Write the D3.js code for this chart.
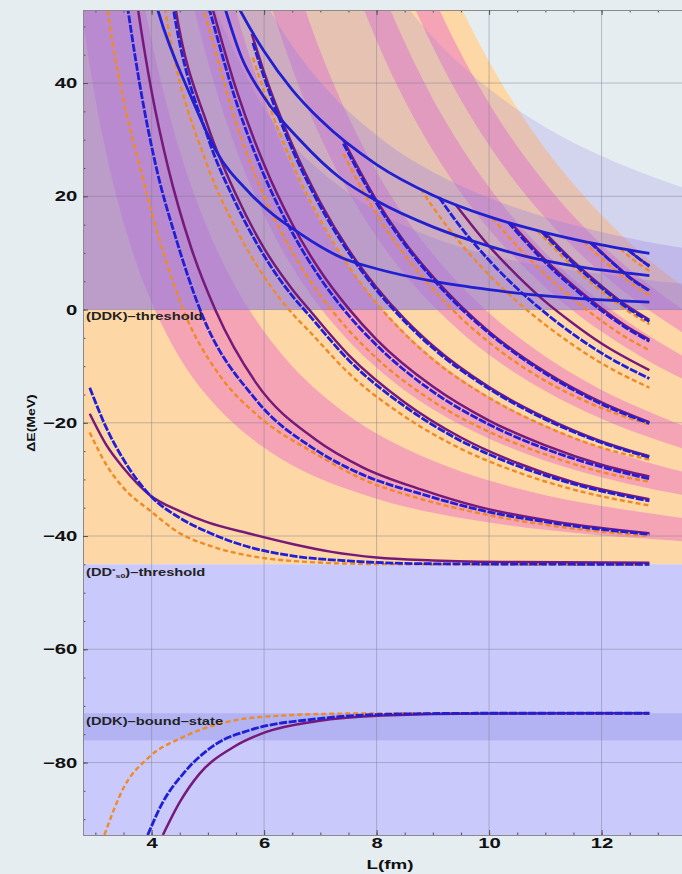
<!DOCTYPE html>
<html>
<head>
<meta charset="utf-8">
<script src="https://cdn.jsdelivr.net/npm/d3@7"></script>
<style>
  body { margin: 0; background: #e5edf1; }
  svg { display: block; }
  text { font-family: "Liberation Sans", Arial, sans-serif; font-weight: bold; }
</style>
</head>
<body>
<div id="chart"></div>
<script>
var W = 682, H = 874;

// thresholds (MeV)
var ddkThreshold = 0;
var ddsThreshold = -45;
var boundBand = [-76.1, -71.3];

// free D D*s0 levels on a common L grid (fm)
var freeL = [2.78, 3, 3.25, 3.5, 3.75, 4, 4.5, 5, 5.5, 6, 6.5, 7, 7.5, 8, 8.5, 9, 9.5, 10, 11, 12, 13, 13.43];
var lev1  = [50.8, 37.2, 25.1, 15.4, 7.6, 1.3, -8.5, -15.4, -20.5, -24.4, -27.5, -29.9, -31.8, -33.4, -34.8, -35.9, -36.8, -37.6, -38.9, -39.9, -40.6, -40.9];
var lev2  = [146, 119, 95, 75.8, 60.2, 47.5, 28.1, 14.2, 3.9, -3.9, -10.0, -14.8, -18.7, -21.9, -24.5, -26.7, -28.6, -30.2, -32.8, -34.7, -36.2, -36.8];
var lev3  = [242, 202, 165, 136, 113, 93.8, 64.6, 43.8, 28.4, 16.7, 7.5, 0.3, -5.5, -10.3, -14.3, -17.6, -20.4, -22.8, -26.7, -29.6, -31.9, -32.7];
var lev4  = [338, 284, 235, 197, 166, 140, 101, 73.4, 52.8, 37.2, 25.0, 15.4, 7.6, 1.2, -4.0, -8.5, -12.2, -15.4, -20.5, -24.4, -27.5, -28.6];
var lev5  = [434, 366, 305, 257, 218, 186, 138, 103, 77.3, 57.8, 42.6, 30.5, 20.8, 12.8, 6.2, 0.7, -4.0, -8.0, -14.4, -19.3, -23.1, -24.5];
var lev6  = [530, 448, 375, 318, 271, 233, 174, 133, 102, 78.4, 60.1, 45.6, 34.0, 24.4, 16.4, 9.8, 4.2, -0.6, -8.3, -14.2, -18.7, -20.4];
var lev8  = [721, 613, 516, 438, 376, 325, 247, 192, 151, 120, 95.1, 75.8, 60.3, 47.5, 36.9, 28.1, 20.6, 14.2, 3.9, -3.9, -10.0, -12.2];
var lev9  = [817, 695, 586, 499, 429, 371, 284, 221, 175, 140, 113, 90.9, 73.4, 59.0, 47.2, 37.2, 28.8, 21.6, 10.0, 1.3, -5.6, -8.1];
var lev10 = [913, 777, 656, 559, 481, 418, 320, 251, 200, 161, 130, 106, 86.6, 70.6, 57.4, 46.4, 37.0, 29.0, 16.2, 6.4, -1.2, -4.0];
var lev11 = [1008, 859, 726, 620, 534, 464, 357, 281, 224, 181, 148, 121, 99.8, 82.2, 67.6, 55.5, 45.2, 36.4, 22.3, 11.5, 3.2, 0.1];
var lev12 = [1104, 942, 796, 680, 586, 510, 394, 310, 249, 202, 165, 136, 113, 93.7, 77.9, 64.6, 53.4, 43.8, 28.4, 16.7, 7.5, 4.2];

// upper edges of the DDK shaded regions, same grid
var ddkUpper = [505, 433, 369, 318, 277, 244, 193, 156, 129, 108, 92.3, 79.6, 69.3, 60.9, 54.0, 48.1, 43.2, 39.0, 32.2, 27.1, 23.1, 21.6];
var ddkBandA = [255, 219, 186, 161, 140, 123, 97.2, 78.7, 65.1, 54.7, 46.6, 40.2, 35.0, 30.8, 27.2, 24.3, 21.8, 19.7, 16.3, 13.7, 11.6, 10.9];
var ddkBandB = [250, 210, 175, 145, 122, 103, 76, 57, 45, 35.5, 29.2, 24.5, 20.6, 17.4, 14.8, 12.7, 11.0, 9.6, 7.7, 6.3, 5.0, 4.6];

// free DDK levels (blue solid)
var ddkA = [[5.5,54.2],[5.57,52.9],[6,45.6],[6.5,38.8],[7,33.5],[8,25.6],[9,20.2],[10,16.4],[11,13.6],[12,11.4],[12.85,9.9]];
var ddkB = [[5.25,55],[5.6,44.5],[6,37.5],[6.64,29.9],[7.37,23.1],[8,19.2],[9,14.6],[10,11.2],[10.73,9.2],[11.5,7.7],[12.85,6.0]];
var ddkC = [[4.05,55],[4.11,52.9],[4.73,36.9],[5.14,28.1],[5.75,20.5],[6.64,13.4],[7.37,9.2],[8,7.2],[9,5.0],[10,3.5],[11,2.4],[12.85,1.3]];

// finite volume levels: purple solid
var purple1 = [[2.9,-18.4],[3.2,-24],[3.5,-28],[3.97,-32.8],[4.5,-35.6],[5,-37.6],[5.75,-39.6],[6.5,-41.4],[7.2,-42.8],[8,-43.8],[9,-44.3],[10.5,-44.6],[12.85,-44.7]];
var purple2 = [[3.7,57],[3.76,52.9],[4.0,38.5],[4.29,25.2],[4.7,11],[5.13,0],[5.86,-13],[6.92,-23],[7.76,-27.9],[8.8,-31.8],[9.84,-34.9],[11.2,-37.5],[12.85,-39.5]];
var purple3 = [[4.38,56],[4.43,52.9],[5,32.4],[5.5,20.3],[6,10.8],[6.5,3.6],[6.8,0],[7.5,-8],[8.5,-16.4],[9.5,-22.6],[10.5,-27.1],[11.5,-30.5],[12.85,-33.5]];
var purple4 = [[5.03,55],[5.09,52.9],[5.5,39.0],[6,25.6],[6.5,15.1],[7,6.8],[7.5,0.2],[8,-5.3],[9,-13.6],[10,-19.6],[11,-24],[12,-27.4],[12.85,-29.5]];
var purple5 = [[5.78,48.7],[6,41.9],[6.5,29.1],[7,18.9],[7.5,10.6],[8,3.9],[8.5,-1.7],[9,-6.4],[10,-13.7],[11,-19.1],[12,-23.3],[12.85,-25.9]];
var purple6 = [[7.41,29.9],[8,19.25],[8.5,11.9],[9,5.8],[9.5,0.6],[10,-3.9],[11,-11],[12,-16.4],[12.85,-19.9]];
var purple7 = [[9.4,18.6],[10,11.2],[10.5,6],[11,1.4],[11.5,-2.5],[12,-6],[12.85,-10.7]];
var purple8 = [[10.4,15.2],[11,8.75],[11.5,4.2],[12,0.2],[12.4,-2.7],[12.85,-5.3]];
var purple9 = [[11,13.5],[11.5,8.5],[12,4.15],[12.4,1],[12.85,-1.8]];
var purple10 = [[11.82,11.8],[12.2,8.3],[12.5,5.75],[12.85,3.4]];
var purple11 = [[12.48,10.5],[12.65,9.1],[12.85,7.8]];
var purpleBound = [[4.2,-92.8],[4.5,-87],[4.85,-82],[5.45,-77.3],[6.04,-74.6],[6.93,-72.7],[8.11,-71.7],[10,-71.35],[12.85,-71.3]];

// blue dash-dot
var blue1 = [[2.9,-13.8],[3.2,-21],[3.5,-26.5],[3.97,-32.8],[4.5,-36.8],[5,-39.3],[5.75,-42],[6.5,-43.5],[7.5,-44.4],[9,-44.9],[12.85,-45]];
var blue2 = [[3.52,57],[3.58,52.9],[3.82,38],[4.08,25.2],[4.45,12],[4.86,0],[5.86,-16],[6.92,-24.8],[7.76,-29.2],[8.8,-32.6],[9.84,-35.4],[11.2,-37.8],[12.85,-39.7]];
var blue3 = [[4.34,56],[4.39,52.9],[5,30.4],[5.5,18.7],[6,9.5],[6.5,2.4],[6.8,-1],[7.5,-8.9],[8.5,-17.1],[9.5,-23.2],[10.5,-27.6],[11.5,-30.8],[12.85,-33.8]];
var blue4 = [[4.97,55],[5.03,52.9],[5.5,36.8],[6,23.7],[6.5,13.6],[7,5.5],[7.5,-1],[8,-6.3],[9,-14.5],[10,-20.3],[11,-24.6],[12,-27.8],[12.85,-29.9]];
var blue5 = [[5.8,47.1],[6,41],[6.5,28.3],[7,18.2],[7.5,10.1],[8,3.4],[8.5,-2.1],[9,-6.8],[10,-14],[11,-19.4],[12,-23.5],[12.85,-26.1]];
var blue6 = [[7.41,29.3],[8,18.75],[8.5,11.5],[9,5.4],[9.5,0.2],[10,-4.2],[11,-11.3],[12,-16.7],[12.85,-20.1]];
var blue7 = [[9.11,19.8],[9.5,14.5],[10,8.7],[10.5,3.7],[11,-0.6],[11.5,-4.4],[12,-7.7],[12.85,-12.2]];
var blue8 = [[10.34,15.4],[11,8.3],[11.5,3.8],[12,-0.2],[12.4,-3],[12.85,-5.6]];
var blue9 = [[10.94,13.7],[11.5,8.15],[12,3.8],[12.4,0.7],[12.85,-2.1]];
var blue10 = [[11.8,11.8],[12.2,8.2],[12.5,5.6],[12.85,3.3]];
var blue11 = [[12.47,10.5],[12.85,7.6]];
var blueBound = [[3.93,-92.8],[4.2,-87],[4.56,-82],[5.15,-76.7],[5.74,-74.3],[6.93,-72.3],[8.11,-71.5],[10,-71.3],[12.85,-71.3]];

// orange dashed
var orange1 = [[2.9,-21.7],[3.2,-27.5],[3.5,-31.5],[3.97,-35.5],[4.5,-39.5],[5,-41.6],[5.75,-43.5],[6.5,-44.4],[8,-44.95],[12.85,-45.1]];
var orange2 = [[3.17,57],[3.22,52.9],[3.48,38],[3.79,25.2],[4.15,12],[4.56,0],[5.2,-11.5],[5.86,-18.5],[6.92,-25.5],[7.76,-30],[8.8,-33.5],[9.84,-36],[11.2,-38.3],[12.85,-40]];
var orange3 = [[4.19,56],[4.24,52.9],[5,25.2],[5.5,14.3],[6,5.8],[6.5,-0.7],[6.8,-3.8],[7.5,-11.2],[8.5,-18.9],[9.5,-24.6],[10.5,-28.7],[11.5,-31.8],[12.85,-34.6]];
var orange4 = [[4.85,55],[4.92,52.9],[5.5,33],[6,20],[6.5,10.2],[7,2.5],[7.5,-3.6],[8,-8.6],[9,-16.2],[10,-21.6],[11,-25.6],[12,-28.7],[12.85,-30.4]];
var orange5 = [[5.8,44.5],[6,38.5],[6.5,25.8],[7,15.8],[7.5,7.7],[8,1.1],[8.5,-4.3],[9,-8.8],[10,-15.6],[11,-20.6],[12,-24.4],[12.85,-26.5]];
var orange6 = [[7.41,27.5],[8,16.8],[8.5,9.6],[9,3.6],[9.5,-1.5],[10,-5.8],[11,-12.6],[12,-17.4],[12.85,-20.3]];
var orange7 = [[8.78,21.3],[9,18.1],[9.5,11.6],[10,6.1],[10.5,1.4],[11,-2.7],[11.5,-6.3],[12,-9.5],[12.85,-13.8]];
var orange8 = [[10.06,16.2],[10.5,11.2],[11,6.2],[11.5,1.8],[12,-2],[12.4,-4.7],[12.85,-7.2]];
var orange9 = [[10.86,13.9],[11.5,7.5],[12,3.2],[12.4,0.2],[12.85,-2.6]];
var orange10 = [[11.68,12],[12,9],[12.4,5.6],[12.85,2.5]];
var orange11 = [[12.33,10.8],[12.55,8.9],[12.85,6.8]];
var orangeBound = [[3.16,-92.8],[3.5,-84.5],[3.96,-79],[4.56,-75.5],[5.45,-72.6],[6.34,-71.7],[7.5,-71.35],[9,-71.3],[12.85,-71.3]];

var purpleLevels = [purple1, purple2, purple3, purple4, purple5, purple6, purple7, purple8, purple9, purple10, purple11, purpleBound];
var blueLevels = [blue1, blue2, blue3, blue4, blue5, blue6, blue7, blue8, blue9, blue10, blue11, blueBound];
var orangeLevels = [orange1, orange2, orange3, orange4, orange5, orange6, orange7, orange8, orange9, orange10, orange11, orangeBound];
var ddkLevels = [ddkA, ddkB, ddkC];

var xTicks = [4, 6, 8, 10, 12];
var yTicks = [-80, -60, -40, -20, 0, 20, 40];

var x = d3.scaleLinear().domain([2.78, 13.43]).range([83, 682]);
var y = d3.scaleLinear().domain([-92.8, 52.9]).range([835, 10]);

var svg = d3.select('#chart').append('svg')
  .attr('width', W)
  .attr('height', H);

svg.append('rect').attr('width', W).attr('height', H).attr('fill', '#e5edf1');

svg.append('clipPath').attr('id', 'plot')
  .append('rect')
  .attr('x', x.range()[0]).attr('y', y.range()[1])
  .attr('width', x.range()[1] - x.range()[0])
  .attr('height', y.range()[0] - y.range()[1]);

var g = svg.append('g').attr('clip-path', 'url(#plot)');

var area = d3.area()
  .curve(d3.curveMonotoneX)
  .x(function(d) { return x(d[0]); })
  .y0(function(d) { return y(d[1]); })
  .y1(function(d) { return y(d[2]); });

function band(lo, hi) {
  return freeL.map(function(L, i) {
    var a = Array.isArray(lo) ? lo[i] : lo;
    var b = Array.isArray(hi) ? hi[i] : hi;
    return [L, a, b];
  });
}

// orange: DD*s0 region
g.append('path').attr('d', area(band(ddsThreshold, lev12))).attr('fill', '#fdd7a6');

// pink bands between free levels
[[lev1, lev2], [lev3, lev4], [lev5, lev6], [lev8, lev9], [lev10, lev11]].forEach(function(p) {
  g.append('path').attr('d', area(band(p[0], p[1]))).attr('fill', '#f5a4b5');
});

// below the DD*s0 threshold
g.append('rect')
  .attr('x', x.range()[0]).attr('width', x.range()[1] - x.range()[0])
  .attr('y', y(ddsThreshold)).attr('height', y.range()[0] - y(ddsThreshold))
  .attr('fill', '#c9c9fb');

g.append('rect')
  .attr('x', x.range()[0]).attr('width', x.range()[1] - x.range()[0])
  .attr('y', y(boundBand[1])).attr('height', y(boundBand[0]) - y(boundBand[1]))
  .attr('fill', '#b3b3f3');

// DDK regions above threshold
[[ddkUpper, 0.22], [ddkBandA, 0.3], [ddkBandB, 0.3]].forEach(function(p) {
  g.append('path').attr('d', area(band(ddkThreshold, p[0])))
    .attr('fill', '#957ce2').attr('fill-opacity', p[1]);
});

// grid
g.selectAll('.gx').data(xTicks).enter().append('line')
  .attr('x1', function(d) { return x(d); }).attr('x2', function(d) { return x(d); })
  .attr('y1', y.range()[1]).attr('y2', y.range()[0])
  .attr('stroke', '#7d7d90').attr('stroke-opacity', 0.45);
g.selectAll('.gy').data(yTicks).enter().append('line')
  .attr('y1', function(d) { return y(d); }).attr('y2', function(d) { return y(d); })
  .attr('x1', x.range()[0]).attr('x2', x.range()[1])
  .attr('stroke', '#7d7d90').attr('stroke-opacity', 0.45);

var line = d3.line()
  .curve(d3.curveMonotoneX)
  .x(function(d) { return x(d[0]); })
  .y(function(d) { return y(d[1]); });

g.selectAll('.orange').data(orangeLevels).enter().append('path')
  .attr('d', line).attr('fill', 'none')
  .attr('stroke', '#f08a24').attr('stroke-width', 2.4).attr('stroke-dasharray', '5,3');

g.selectAll('.purple').data(purpleLevels).enter().append('path')
  .attr('d', line).attr('fill', 'none')
  .attr('stroke', '#761a7a').attr('stroke-width', 2.5);

g.selectAll('.blue').data(blueLevels).enter().append('path')
  .attr('d', line).attr('fill', 'none')
  .attr('stroke', '#1f1fd8').attr('stroke-width', 2.8).attr('stroke-dasharray', '8,1.6');

g.selectAll('.ddk').data(ddkLevels).enter().append('path')
  .attr('d', line).attr('fill', 'none')
  .attr('stroke', '#2020cf').attr('stroke-width', 2.8);

// axes
function styleAxis(sel) {
  sel.select('.domain').attr('stroke', '#8a8a8a');
  sel.selectAll('.tick line').attr('stroke', '#555');
  sel.selectAll('text')
    .attr('fill', '#111')
    .style('font-size', '14px')
    .attr('transform', 'scale(1.45,1)');
}

svg.append('g').attr('transform', 'translate(' + x.range()[0] + ',0)')
  .call(d3.axisLeft(y).tickValues(d3.range(-90, 55, 5)).tickSize(-2.5).tickFormat(''))
  .call(styleAxis);
svg.append('g').attr('transform', 'translate(' + x.range()[0] + ',0)')
  .call(d3.axisLeft(y).tickValues(yTicks).tickSize(-5).tickPadding(4))
  .call(styleAxis);

svg.append('g').attr('transform', 'translate(0,' + y.range()[0] + ')')
  .call(d3.axisBottom(x).tickValues(d3.range(3, 13.5, 0.5)).tickSize(-2.5).tickFormat(''))
  .call(styleAxis);
svg.append('g').attr('transform', 'translate(0,' + y.range()[0] + ')')
  .call(d3.axisBottom(x).tickValues(xTicks).tickSize(-5).tickPadding(3))
  .call(styleAxis);

svg.append('g').attr('transform', 'translate(0,' + y.range()[1] + ')')
  .call(d3.axisTop(x).tickValues(d3.range(3, 13.5, 0.5)).tickSize(-2.5).tickFormat(''))
  .call(styleAxis);
svg.append('g').attr('transform', 'translate(0,' + y.range()[1] + ')')
  .call(d3.axisTop(x).tickValues(xTicks).tickSize(-5).tickFormat(''))
  .call(styleAxis);

// axis titles
svg.append('text')
  .attr('transform', 'translate(390,869) scale(1.45,1)')
  .attr('text-anchor', 'middle')
  .style('font-size', '13px')
  .attr('fill', '#111')
  .text('L(fm)');

svg.append('text')
  .attr('transform', 'translate(35,423) rotate(-90) scale(1.4,1)')
  .attr('text-anchor', 'middle')
  .style('font-size', '10px')
  .attr('fill', '#111')
  .text('ΔE(MeV)');

// region labels
function label(xp, yp, parts) {
  var t = svg.append('text')
    .attr('transform', 'translate(' + xp + ',' + yp + ') scale(1.47,1)')
    .attr('fill', '#222')
    .style('font-size', '10px');
  parts.forEach(function(p) {
    t.append('tspan').attr('dy', p.dy || 0).style('font-size', p.size || '10px').text(p.s);
  });
}

label(86, 320, [{s: '(DDK)\u2013threshold'}]);
label(86, 576, [{s: '(DD'}, {s: '*', dy: -3, size: '6px'}, {s: 's0', dy: 5, size: '6px'}, {s: ')\u2013threshold', dy: -2}]);
label(86, 725, [{s: '(DDK)\u2013bound\u2013state'}]);
</script>
</body>
</html>
